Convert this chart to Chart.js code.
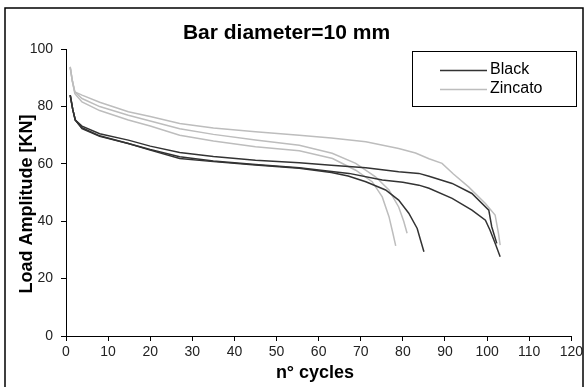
<!DOCTYPE html>
<html><head><meta charset="utf-8">
<script src="https://cdn.jsdelivr.net/npm/chart.js@4.4.0/dist/chart.umd.min.js"></script>
<style>html,body{margin:0;padding:0;background:#fff;}canvas{display:block;}</style>
</head><body>
<canvas id="c" width="586" height="387"></canvas>
<script>
// ---- tick labels ----
const xTickValues = [0,10,20,30,40,50,60,70,80,90,100,110,120];
const yTickValues = [0,20,40,60,80,100];

// ---- series (n° cycles, Load Amplitude [KN]) ----
const black1X = [1.0,1.6,2.2,3.8,8,14.8,20,27,35,45,55.4,63,71.2,79,83.8,86.2,91.7,96.4,100.4,101.1,102.3];
const black1Y = [84.0,79,75.3,73.2,70.5,68.3,66.2,64.0,62.6,61.3,60.4,59.5,58.7,57.3,56.7,55.7,53.2,49.7,43.9,38.1,32.3];

const black2X = [1.0,1.6,2.2,3.8,8,14.8,20,27,35,45,55.4,67.2,75.1,80,83.8,86.2,91.7,96.4,99.6,100.7,102,103.1];
const black2Y = [84.0,79,75.3,72.6,69.8,67.1,65,62.5,61,59.8,58.7,56.7,54.4,53.6,52.6,51.5,48,43.9,40.4,36.9,32,27.6];

const black3X = [1.0,1.6,2.2,3.8,8,14.8,20,27,35,45,55.4,63,67,71.2,75.9,79,81.4,83.4,84.2,85];
const black3Y = [84.0,79,75.3,72.3,69.6,67.1,64.8,61.9,60.8,59.6,58.5,57,55.8,53.8,50.9,47.4,42.8,37.5,33.4,29.4];

const zinc1X = [1.0,1.5,2.1,3.8,8,14.8,20,27,35,45,55.4,63,71.2,79,83,86.2,89.3,92,95.6,99.6,101.9,102.7,103.1];
const zinc1Y = [93.8,89,85.1,84.0,81.5,78.2,76.5,74.1,72.5,71.2,70.0,69.0,67.7,65.4,63.8,61.8,60.2,56.5,52,46.2,42.2,35.8,31.7];

const zinc2X = [1.0,1.5,2.1,3.8,8,14.8,20,27,35,45,55.4,63.2,68.8,73.5,76.7,79,80.2,81];
const zinc2Y = [93.8,89,85.1,82.8,80,77.0,75,72.3,70.3,68.3,66.5,63.7,60.2,55.5,50.9,45,40,35.8];

const zinc3X = [1.0,1.5,2.1,3.8,8,14.8,20,27,35,45,55.4,63.3,68.8,72.7,75.1,76.7,77.6,78.3];
const zinc3Y = [93.5,89,84.5,81.6,78.6,75.3,73.2,70.0,68,66,64.6,61.9,57.8,53.8,48.5,41.6,36,31.4];

const seriesNames = ["Black","Zincato"];
const blackColor = "#333333";
const zincColor = "#bdbdbd";

function pts(xs, ys){ return xs.map((x,i)=>({x:x, y:ys[i]})); }
function ds(label, xs, ys, color, inLegend){
  return {label:label, data:pts(xs,ys), showLine:true, pointRadius:0, borderWidth:1.5,
          borderColor:color, backgroundColor:color, fill:false, tension:0, inLegend:inLegend};
}

const FONT = "'Liberation Sans', Arial, sans-serif";

const decor = {
  id:'decor',
  afterDraw(chart){
    const ctx = chart.ctx;
    ctx.save();
    // outer frame
    ctx.strokeStyle = '#000'; ctx.lineWidth = 1.5;
    ctx.strokeRect(5, 8, 578, 400);
    // axis titles
    ctx.fillStyle = '#000';
    ctx.font = "bold 18px " + FONT;
    ctx.textAlign = 'center'; ctx.textBaseline = 'middle';
    ctx.fillText("n° cycles", 315, 373);
    ctx.save();
    ctx.translate(27, 204); ctx.rotate(-Math.PI/2);
    ctx.fillText("Load Amplitude [KN]", 0, 0);
    ctx.restore();
    // legend
    ctx.lineWidth = 1; ctx.strokeStyle = '#000';
    ctx.strokeRect(412.5, 51.5, 164, 55);
    const items = chart.data.datasets.filter(d=>d.inLegend);
    ctx.font = "16px " + FONT; ctx.textAlign = 'left';
    items.forEach((d,i)=>{
      const y = 70 + i*19;
      ctx.strokeStyle = d.borderColor; ctx.lineWidth = 1.5;
      ctx.beginPath(); ctx.moveTo(440, y+0.5); ctx.lineTo(487, y+0.5); ctx.stroke();
      ctx.fillStyle = '#000';
      ctx.fillText(d.label, 490, y);
    });
    ctx.restore();
  }
};

new Chart(document.getElementById('c'), {
  type:'scatter',
  data:{datasets:[
    ds(seriesNames[0], black1X, black1Y, blackColor, true),
    ds(seriesNames[0], black2X, black2Y, blackColor, false),
    ds(seriesNames[0], black3X, black3Y, blackColor, false),
    ds(seriesNames[1], zinc1X, zinc1Y, zincColor, true),
    ds(seriesNames[1], zinc2X, zinc2Y, zincColor, false),
    ds(seriesNames[1], zinc3X, zinc3Y, zincColor, false)
  ]},
  options:{
    responsive:false, animation:false, devicePixelRatio:1,
    layout:{padding:{left:0,right:13,top:0,bottom:0}},
    plugins:{
      legend:{display:false}, tooltip:{enabled:false},
      title:{display:true, text:"Bar diameter=10 mm", color:'#000',
             font:{family:FONT, size:21, weight:'bold'}, padding:{top:21,bottom:3}}
    },
    scales:{
      x:{type:'linear', min:0, max:120,
         afterFit(s){ s.height = 51; },
         afterBuildTicks(s){ s.ticks = xTickValues.map(v=>({value:v})); },
         ticks:{color:'#222', font:{family:FONT,size:14}, padding:3, maxRotation:0, autoSkip:false},
         grid:{display:true, drawOnChartArea:false, drawTicks:true, tickLength:5, color:'#000'},
         border:{display:true, color:'#000', width:1}},
      y:{type:'linear', min:0, max:100,
         afterFit(s){ s.width = 66; },
         afterBuildTicks(s){ s.ticks = yTickValues.map(v=>({value:v})); },
         ticks:{color:'#222', font:{family:FONT,size:14}, padding:8},
         grid:{display:true, drawOnChartArea:false, drawTicks:true, tickLength:5, color:'#000'},
         border:{display:true, color:'#000', width:1}}
    }
  },
  plugins:[decor]
});
</script>
</body></html>
